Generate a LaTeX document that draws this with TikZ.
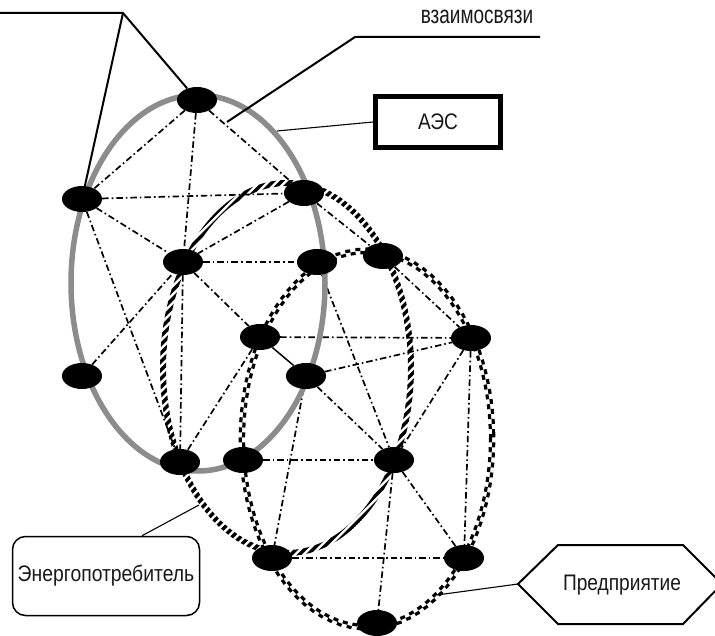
\documentclass[tikz,border=0pt]{standalone}
\usepackage{fontspec}
\setmainfont{Liberation Sans}
\usepackage{graphicx}
\usetikzlibrary{shapes.geometric,decorations.markings,calc}
\pgfdeclarelayer{bg}
\pgfsetlayers{bg,main}
\begin{document}
\begin{tikzpicture}[x=1pt,y=-1pt,
  hub/.style={ellipse,fill=black,minimum width=40pt,minimum height=26pt,inner sep=0pt},
  link/.style={line width=1.7pt,dash pattern=on 6.5pt off 3pt on 1.6pt off 3pt},
  solidlink/.style={line width=1.5pt},
  lead/.style={line width=2pt},
  thinlead/.style={line width=1.1pt},
  lbl/.style={text=black!90,inner sep=0pt}]
\useasboundingbox (0,0) rectangle (715,636);
% hubs
\node[hub] (A) at (197,100) {};
\node[hub] (B) at (82,199) {};
\node[hub] (C) at (304,193) {};
\node[hub] (D) at (183,262) {};
\node[hub] (E) at (317,262) {};
\node[hub] (F) at (383,256) {};
\node[hub] (G) at (260,337) {};
\node[hub] (H) at (306,376) {};
\node[hub] (I) at (471,338) {};
\node[hub] (J) at (82,376) {};
\node[hub] (K) at (180,462) {};
\node[hub] (L) at (243,460) {};
\node[hub] (M) at (394,460) {};
\node[hub] (N) at (272,558) {};
\node[hub] (O) at (464,558) {};
\node[hub] (P) at (377,623) {};
% labels
\node[lbl] (vz) at (477,17) {\fontsize{25}{25}\selectfont\scalebox{0.76}[1]{взаимосвязи}};
\node[draw,line width=5pt,minimum width=125pt,minimum height=51pt,inner sep=0pt,lbl] (aes) at (438,122) {\fontsize{22.5}{22.5}\selectfont\scalebox{0.85}[1]{АЭС}};
\node[draw,line width=1.5pt,rounded corners=13pt,minimum width=187pt,minimum height=79pt,lbl] (ep) at (106,576) {\raisebox{3pt}{\fontsize{22.5}{22.5}\selectfont\scalebox{0.86}[1]{Энергопотребитель}}};
\node[lbl] (pr) at (622,585) {\fontsize{22.5}{22.5}\selectfont\scalebox{0.85}[1]{Предприятие}};
\coordinate (hxl) at (518,584);
\draw[line width=2pt] (hxl) -- (558,545) -- (683,545) -- (722,584) -- (683,624) -- (558,624) -- cycle;
% leader coordinates
\coordinate (t0) at (0,13);
\coordinate (t1) at (123,13);
\coordinate (v1) at (227,122);
\coordinate (v2) at (355,37);
\coordinate (v3) at (540,37);
\coordinate (g1) at (277,131);
\coordinate (e1) at (199,505);
\coordinate (p1) at (437,595);
\draw[lead] (t0) -- (t1) -- (A);
\draw[lead] (t1) -- (B);
\draw[lead] (v1) -- (v2) -- (v3);
\draw[thinlead] (g1) -- (aes.west);
\draw[thinlead] ([xshift=36pt]ep.north) -- (e1);
\draw[thinlead] (hxl) -- (p1);
\begin{pgfonlayer}{bg}
  \fill[white] (0,0) rectangle (715,636);
  % dash-dot links
  \foreach \a/\b in {A/B,A/C,A/D,B/C,B/D,B/K,C/D,C/F,D/E,D/G,D/K,J/D,G/K,G/I,H/I,H/N,H/M,E/M,F/I,I/M,I/O,L/M,M/O,M/P,N/O}
    \draw[link] (\a) -- (\b);
  \draw[solidlink] (G) -- (H);
  % grey ellipse (AES)
  \draw[line width=5.5pt,black!45] (198,283) ellipse [x radius=127pt,y radius=188pt];
  % striped ellipse (consumer)
  \begin{scope}[even odd rule]
    \clip (287,368) ellipse [x radius=127pt,y radius=188pt]
          (287,368) ellipse [x radius=121pt,y radius=182pt];
    \foreach \s in {-330,-321.5,...,360}
      \draw[line width=3.4pt] (\s,640) -- ++(640,-640);
  \end{scope}
  % checkered ellipse (enterprise)
  \draw[white,line width=6.5pt] (367,439) ellipse [x radius=125pt,y radius=188pt];
  \path[decorate,decoration={markings,
      mark=between positions 0 and 1 step 10pt with {
        \fill[black] (0pt,0pt) rectangle (5pt,3.2pt);
        \fill[black] (5pt,0pt) rectangle (10pt,-3.2pt);}}]
    (367,439) ellipse [x radius=125pt,y radius=188pt];
\end{pgfonlayer}
\end{tikzpicture}
\end{document}
